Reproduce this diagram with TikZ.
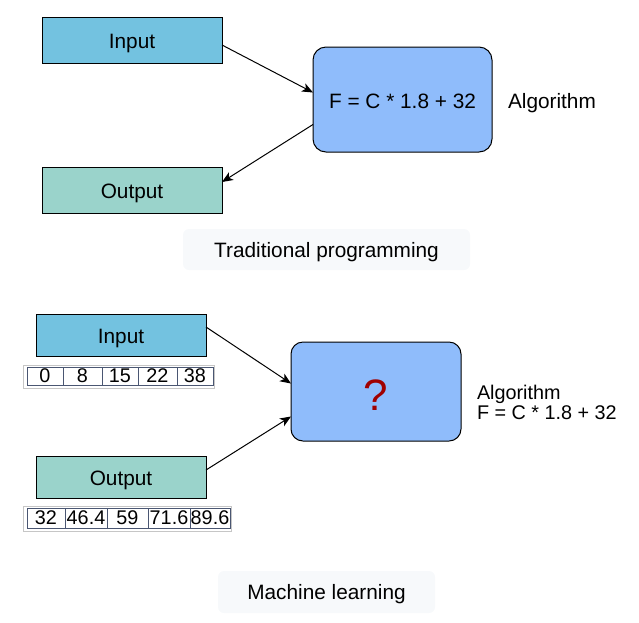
\documentclass[tikz,border=0pt]{standalone}
\usepackage{fontspec}
\setmainfont{Liberation Sans}
\usepackage{tikz}
\usetikzlibrary{shapes,arrows.meta}
\usetikzlibrary{positioning}
\usetikzlibrary{fit}
\definecolor{inblue}{HTML}{73C2E0}
\definecolor{outteal}{HTML}{9AD3CB}
\definecolor{algblue}{HTML}{8FBCFB}
\definecolor{labelbg}{HTML}{F7F9FB}
\definecolor{cellline}{HTML}{4A5672}
\definecolor{qred}{HTML}{A00000}
\tikzset{auto,>={Stealth[length=11pt,width=9pt,inset=3pt]}, inner sep=0pt, outer sep=0pt, font=\fontsize{20.8}{24}\selectfont}
\tikzstyle{iobox} = [draw, line width=1pt, rectangle, minimum width=180pt, minimum height=46pt, text centered, text height=17pt, text depth=0pt]
\tikzstyle{iosmall} = [iobox, minimum width=170pt, minimum height=42pt]
\tikzstyle{algbox} = [draw, line width=1pt, fill=algblue, rectangle, rounded corners=13pt, minimum width=179pt, minimum height=105pt, text height=17pt, text depth=0pt]
\tikzstyle{caption} = [fill=labelbg, rectangle, rounded corners=6pt, minimum height=41pt, text height=15pt, text depth=0pt]
\tikzstyle{cell} = [draw=cellline, line width=0.6pt, fill=white, rectangle, minimum height=18pt, font=\fontsize{19.8}{20}\selectfont]
\tikzstyle{tframe} = [draw=gray!45, line width=1pt, rectangle, inner sep=2.5pt]
\tikzstyle{link} = [draw, line width=1pt, ->]

\begin{document}
\begin{tikzpicture}[x=1pt, y=-1pt]
    \useasboundingbox (0,0) rectangle (639,622);
    % traditional programming
    \node [iobox, fill=inblue] (input_a) at (132,40) {Input};
    \node [iobox, fill=outteal, below=104pt of input_a] (output_a) {Output};
    \node [algbox] (algo_a) at (402.5,99.5) {F = C * 1.8 + 32};
    \node [right=16pt of algo_a, text height=17pt, text depth=0pt] (algo_a_text) {Algorithm};
    \node [caption, minimum width=287pt] (trad) at (326.5,249.5) {Traditional programming};

    \draw [link] ([yshift=-5pt]input_a.east) -- ([yshift=7pt]algo_a.west);
    \draw [link] ([yshift=-25pt]algo_a.west) -- ([yshift=8pt]output_a.east);

    % machine learning
    \node [iosmall, fill=inblue] (input_b) at (121,335) {Input};
    \node [iosmall, fill=outteal, below=100pt of input_b] (output_b) {Output};
    \node [algbox, minimum width=170pt, minimum height=99pt, rounded corners=12pt, text height=38pt] (algo_b) at (376,391.5) {\fontsize{44}{44}\selectfont\color{qred}?};
    \node [right=16pt of algo_b, yshift=-11pt, align=left, font=\fontsize{19.8}{20}\selectfont] (algo_b_text) {Algorithm\\F = C * 1.8 + 32};
    \node [caption, minimum width=217pt, minimum height=42pt] (ml) at (326.5,592) {Machine learning};

    % celsius values
    \node [cell, anchor=north west, minimum width=36pt] (c_a) at (27,367) {0};
    \node [cell, right=0pt of c_a, minimum width=39pt] (c_b) {8};
    \node [cell, right=0pt of c_b, minimum width=36pt] (c_c) {15};
    \node [cell, right=0pt of c_c, minimum width=39pt] (c_d) {22};
    \node [cell, right=0pt of c_d, minimum width=36pt] (c_e) {38};
    \node [tframe, fit=(c_a)(c_e), xshift=-1pt, yshift=-0.5pt] (c_frame) {};

    % fahrenheit values
    \node [cell, anchor=north west, minimum width=38pt, minimum height=20pt] (f_a) at (27,508) {32};
    \node [cell, right=0pt of f_a, minimum width=42pt, minimum height=20pt] (f_b) {46.4};
    \node [cell, right=0pt of f_b, minimum width=41pt, minimum height=20pt] (f_c) {59};
    \node [cell, right=0pt of f_c, minimum width=42pt, minimum height=20pt] (f_d) {71.6};
    \node [cell, right=0pt of f_d, minimum width=40pt, minimum height=20pt] (f_e) {89.6};
    \node [tframe, fit=(f_a)(f_e), xshift=-1pt, yshift=-0.5pt] (f_frame) {};

    \draw [link] ([yshift=8pt]input_b.east) -- ([yshift=8pt]algo_b.west);
    \draw [link] ([yshift=7pt]output_b.east) -- ([yshift=-25pt]algo_b.west);
\end{tikzpicture}
\end{document}
